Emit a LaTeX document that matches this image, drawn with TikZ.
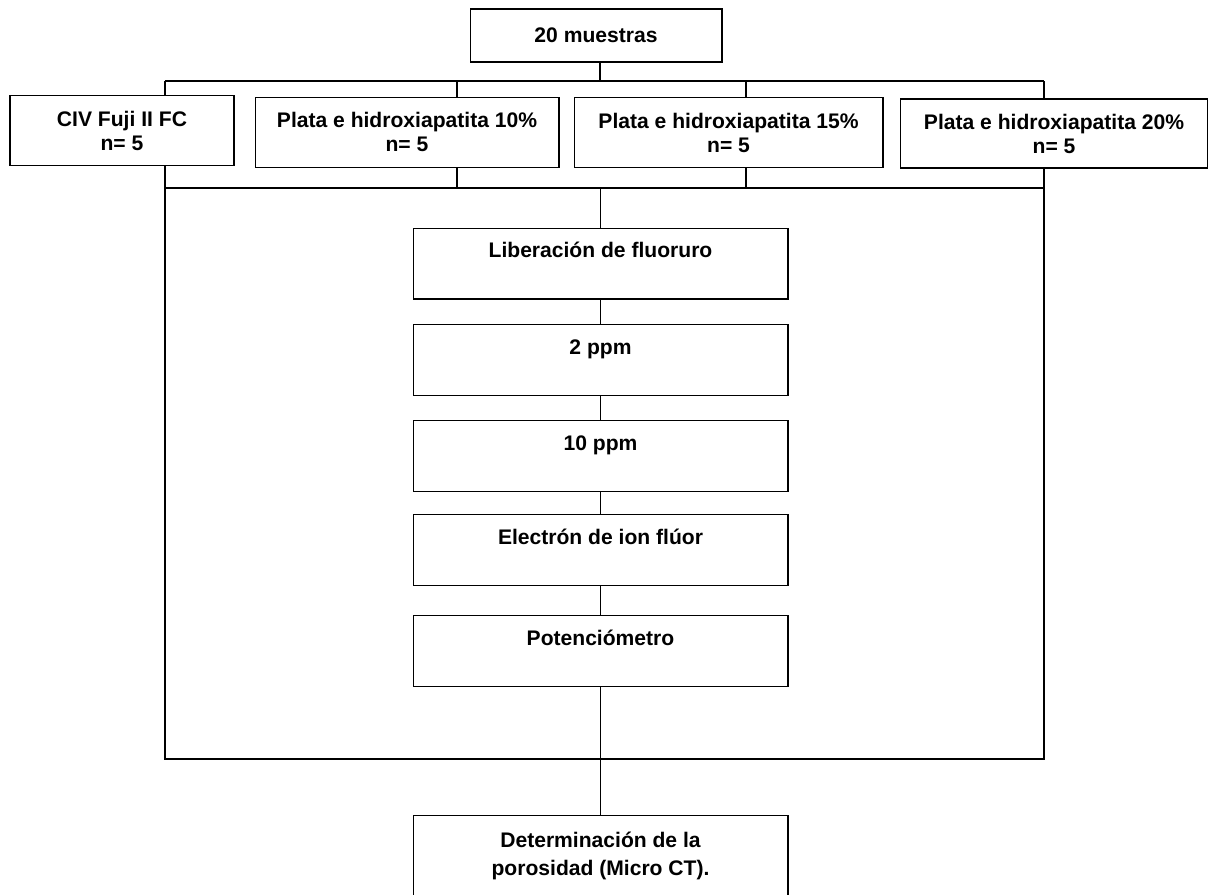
\documentclass[tikz,border=0pt]{standalone}
\usepackage{fontspec}
\setmainfont{Liberation Sans}
\usetikzlibrary{positioning}
\tikzset{
  grpbox/.style={draw,align=center,inner sep=0pt,minimum height=1.4cm,
    font=\bfseries\fontsize{12}{13.7}\selectfont},
  stepbox/.style={draw,inner sep=0pt,minimum width=7.5cm,
    text height=16.9pt,text depth=23.4pt,
    font=\bfseries\fontsize{12}{14}\selectfont}
}

\begin{document}
\begin{tikzpicture}[x=0.02cm,y=-0.02cm,line width=0.6pt]
      \useasboundingbox (0,0) rectangle (1210,894);
      \node[grpbox,minimum width=5.04cm,minimum height=1.06cm] (muestras) at (596,35.5) {20 muestras};
      \node[grpbox,minimum width=4.48cm] (civ) at (122,130.7) {CIV Fuji II FC\\n= 5};
      \node[grpbox,minimum width=6.08cm] (pl10) at (407,132.4) {Plata e hidroxiapatita 10\%\\n= 5};
      \node[grpbox,minimum width=6.18cm] (pl15) at (728.5,132.5) {Plata e hidroxiapatita 15\%\\n= 5};
      \node[grpbox,minimum width=6.15cm,minimum height=1.38cm] (pl20) at (1054,133.5) {Plata e hidroxiapatita 20\%\\n= 5};
      \coordinate (busA) at (0,81);
      \coordinate (busB) at (0,188);
      \coordinate (frameB) at (0,759);
      \coordinate (d1) at (165,0);
      \coordinate (d2) at (457,0);
      \coordinate (d3) at (746,0);
      \coordinate (d4) at (1044,0);
      \node[stepbox] (lib) at (600.5,263.6) {Liberación de fluoruro};
      \node[stepbox] (ppm2) at (600.5,360) {2 ppm};
      \node[stepbox] (ppm10) at (600.5,456) {10 ppm};
      \node[stepbox] (elec) at (600.5,550) {Electrón de ion flúor};
      \node[stepbox] (pot) at (600.5,651.3) {Potenciómetro};
      \node[stepbox,anchor=north,text height=18pt,text depth=70pt,
        font=\bfseries\fontsize{12}{16.1}\selectfont] (det) at (600.5,815)
        {\parbox[t]{7cm}{\centering Determinación de la\\porosidad (Micro CT).}};
      % buses
      \draw (muestras.south -| 600,0) -- (600,0 |- busA);
      \draw (d1 |- busA) -- (d4 |- busA);
      \draw (d1 |- busB) rectangle (d4 |- frameB);
      \foreach \b/\d in {civ/d1,pl10/d2,pl15/d3,pl20/d4} {
        \draw (\b.north -| \d) -- (\d |- busA);
        \draw (\b.south -| \d) -- (\d |- busB);
      }
      \draw (lib.north) -- (lib.north |- busB);
      \foreach \a/\b in {lib/ppm2,ppm2/ppm10,ppm10/elec,elec/pot,pot/det}
        \draw (\a.south) -- (\b.north);
    \end{tikzpicture}
\end{document}
